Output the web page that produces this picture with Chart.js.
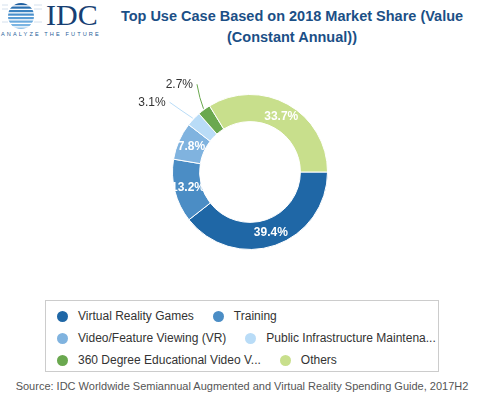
<!DOCTYPE html>
<html><head><meta charset="utf-8">
<script src="https://cdn.jsdelivr.net/npm/chart.js@4.4.0/dist/chart.umd.min.js"></script>
<style>
html,body{margin:0;padding:0;background:#fff;width:484px;height:400px;overflow:hidden;font-family:"Liberation Sans",Arial,sans-serif;}
#logo{position:absolute;left:0;top:0;width:110px;height:40px;}
#title{position:absolute;left:108px;width:368px;top:6px;text-align:center;color:#1b4f86;font-weight:bold;font-size:14.5px;line-height:21px;}
#wrap{position:absolute;left:0;top:62px;width:484px;height:220px;}
#legend{position:absolute;left:45px;top:300px;width:394px;height:72px;border:1px solid #ccc;box-sizing:border-box;padding:4px 0 0 11px;}
.row{display:flex;align-items:center;height:22px;font-size:12px;color:#333;white-space:nowrap;}
.item{display:flex;align-items:center;margin-right:19px;}
.dot{width:11px;height:11px;border-radius:50%;margin-right:10px;}
#source{position:absolute;left:0;width:484px;top:380px;text-align:center;font-size:11px;color:#555;}
</style></head><body>
<svg id="logo" viewBox="0 0 110 40">
  <defs><clipPath id="c"><circle cx="21" cy="16" r="13"/></clipPath></defs>
  <g clip-path="url(#c)">
    <rect x="0" y="3" width="42" height="2.2" fill="#1f5fa0"/>
    <rect x="0" y="6.5" width="42" height="2.2" fill="#2a6fb0"/>
    <rect x="0" y="10" width="42" height="2.2" fill="#3b82c0"/>
    <rect x="0" y="13.5" width="42" height="2.2" fill="#4a90cc"/>
    <rect x="0" y="17" width="42" height="2.2" fill="#5a9dd5"/>
    <rect x="0" y="20.5" width="42" height="2.2" fill="#6aaadd"/>
    <rect x="0" y="24" width="42" height="2.2" fill="#7ab5e3"/>
    <rect x="0" y="27.5" width="42" height="2.2" fill="#8cc0e8"/>
  </g>
  <g stroke="#c9d8e8" stroke-width="0.8">
    <line x1="2" y1="5" x2="8" y2="5"/><line x1="34" y1="5" x2="42" y2="5"/>
    <line x1="2" y1="9" x2="8" y2="9"/><line x1="34" y1="9" x2="42" y2="9"/>
    <line x1="2" y1="22" x2="8" y2="22"/><line x1="34" y1="22" x2="42" y2="22"/>
  </g>
  <text x="46" y="25" font-family="Liberation Serif, serif" font-size="30" fill="#173f73">IDC</text>
  <text x="1" y="36" font-family="Liberation Sans, Arial" font-size="5.6" letter-spacing="2.1" fill="#2a5f9a">ANALYZE THE FUTURE</text>
</svg>
<div id="title">Top Use Case Based on 2018 Market Share (Value<br>(Constant Annual))</div>
<div id="wrap"><canvas id="chart" width="484" height="220"></canvas></div>
<div id="legend"></div>
<div id="source">Source: IDC Worldwide Semiannual Augmented and Virtual Reality Spending Guide, 2017H2</div>
<script>
const categories = ["Virtual Reality Games","Training","Video/Feature Viewing (VR)","Public Infrastructure Maintena...","360 Degree Educational Video V...","Others"];
const shares = [39.4, 13.2, 7.8, 3.1, 2.7, 33.7];
const colors = ["#1f67a6","#4b8dc5","#80b3df","#b9dcf7","#6aa84f","#c8df8c"];
const legendRows = [[0,1],[2,3],[4,5]];

const leg = document.getElementById('legend');
legendRows.forEach(r=>{
  const row=document.createElement('div');row.className='row';
  r.forEach(i=>{
    const it=document.createElement('div');it.className='item';
    it.innerHTML='<span class="dot" style="background:'+colors[i]+'"></span><span>'+categories[i]+'</span>';
    row.appendChild(it);
  });
  leg.appendChild(row);
});

const labelPlugin = {
  id:'labels',
  afterDatasetsDraw(chart){
    const ctx=chart.ctx;
    const meta=chart.getDatasetMeta(0);
    meta.data.forEach((arc,i)=>{
      const p=arc.getProps(['x','y','startAngle','endAngle','innerRadius','outerRadius'],true);
      const mid=(p.startAngle+p.endAngle)/2;
      const txt=shares[i].toFixed(1)+'%';
      ctx.save();
      if(shares[i]>=5){
        const r=(p.innerRadius+p.outerRadius)/2;
        ctx.font='bold 12px "Liberation Sans", Arial';
        ctx.fillStyle='#fff';
        ctx.textAlign='center';ctx.textBaseline='middle';
        ctx.fillText(txt,p.x+Math.cos(mid)*r,p.y+Math.sin(mid)*r);
      } else {
        const sx=p.x+Math.cos(mid)*(p.outerRadius+1), sy=p.y+Math.sin(mid)*(p.outerRadius+1);
        const a2=mid+ (i===4?0.09:-0.04);
        const rr=p.outerRadius+(i===4?25:29);
        const ex=p.x+Math.cos(a2)*rr, ey=p.y+Math.sin(a2)*rr;
        const cx=i===4?sx-4:sx-12, cy=i===4?sy-10:sy-8;
        ctx.strokeStyle=colors[i];ctx.lineWidth=1;
        ctx.beginPath();ctx.moveTo(sx,sy);ctx.quadraticCurveTo(cx,cy,ex,ey);ctx.stroke();
        ctx.font='12px "Liberation Sans", Arial';
        ctx.fillStyle='#333';ctx.textAlign='right';ctx.textBaseline='middle';
        ctx.fillText(txt,ex-4,ey);
      }
      ctx.restore();
    });
  }
};

new Chart(document.getElementById('chart'),{
  type:'doughnut',
  data:{labels:categories,datasets:[{data:shares,backgroundColor:colors,borderColor:'#fff',borderWidth:1}]},
  options:{
    responsive:false,animation:false,rotation:90,cutout:'65%',
    layout:{padding:{left:16,right:0,top:32,bottom:32}},
    plugins:{legend:{display:false},tooltip:{enabled:false}}
  },
  plugins:[labelPlugin]
});
</script>
</body></html>
